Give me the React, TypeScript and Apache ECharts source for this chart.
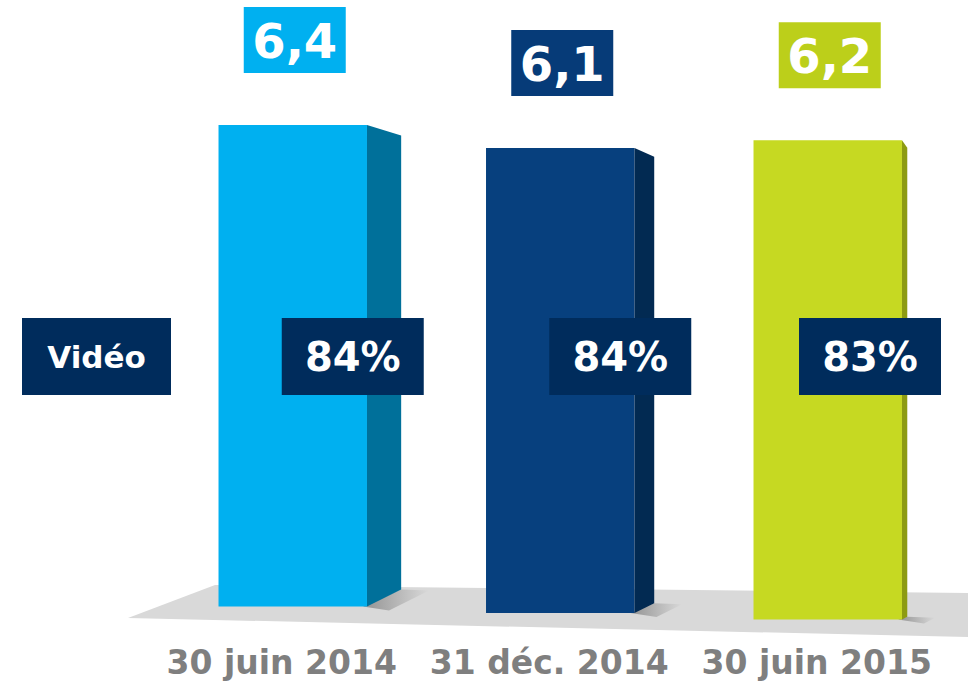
import React, { useEffect, useRef } from "react";
import * as echarts from "echarts";

const categories = ["30 juin 2014", "31 déc. 2014", "30 juin 2015"];
const values = [6.4, 6.1, 6.2];
const valueLabels = ["6,4", "6,1", "6,2"];
const shares = ["84%", "84%", "83%"];
const rowLabel = "Vidéo";

const frontColors = ["#00b0f0", "#07407e", "#c6d922"];
const sideColors = ["#00709a", "#022a52", "#8d9b12"];
const boxColors = ["#00b0f0", "#063b78", "#bccf1a"];
const navy = "#002c5c";
const FONT = "'DejaVu Sans', Verdana, sans-serif";

export default function App() {
  const ref = useRef<HTMLDivElement>(null);
  useEffect(() => {
    if (!ref.current) return;
    const chart = echarts.init(ref.current, null, { renderer: "svg" });
    const renderItem = (params: any, api: any) => {
      const idx = params.dataIndex;
      const v = api.value(1);
      const top = api.coord([idx, v]);
      const base = api.coord([idx, 0]);
      const band = api.size([1, 0])[0];
      const w = band * 0.555;
      const cx = top[0];
      const x0 = cx - w / 2;
      const x1 = cx + w / 2;
      const yTop = top[1];
      const yBot = base[1] + (idx - 1) * 6.5;
      const sideW = Math.max(4, (1000 - x1) * 0.054);
      const drop = 7 + sideW * 0.1;
      const rise = sideW * 0.5;
      const boxCx = cx + 2;
      const pctCx = Math.min(cx + 60, 870);
      return {
        type: "group",
        children: [
          {
            type: "polygon",
            shape: {
              points: [
                [x1 - 4, yBot],
                [x1 + sideW, yBot - rise],
                [x1 + sideW + 28, yBot - rise + 1],
                [x1 + 22, yBot + 4],
              ],
            },
            style: {
              fill: {
                type: "linear",
                x: 0,
                y: 0,
                x2: 1,
                y2: 0,
                colorStops: [
                  { offset: 0, color: "rgba(60,60,60,0.45)" },
                  { offset: 1, color: "rgba(60,60,60,0)" },
                ],
              },
            },
            z2: 1,
          },
          {
            type: "rect",
            shape: { x: x0, y: yTop, width: w, height: yBot - yTop },
            style: { fill: frontColors[idx] },
            z2: 2,
          },
          {
            type: "polygon",
            shape: {
              points: [
                [x1, yTop],
                [x1 + sideW, yTop + drop],
                [x1 + sideW, yBot - rise],
                [x1, yBot],
              ],
            },
            style: { fill: sideColors[idx] },
            z2: 2,
          },
          {
            type: "rect",
            shape: { x: boxCx - 51, y: yTop - 52 - 66, width: 102, height: 66 },
            style: { fill: boxColors[idx] },
            z2: 3,
          },
          {
            type: "text",
            style: {
              text: valueLabels[idx],
              x: boxCx,
              y: yTop - 52 - 33 + 1,
              fill: "#ffffff",
              fontSize: 48,
              fontWeight: "bold",
              fontFamily: FONT,
              align: "center",
              verticalAlign: "middle",
            },
            z2: 4,
          },
          {
            type: "rect",
            shape: { x: pctCx - 71, y: 318, width: 142, height: 77 },
            style: { fill: navy },
            z2: 10,
          },
          {
            type: "text",
            style: {
              text: shares[idx],
              x: pctCx,
              y: 357,
              fill: "#ffffff",
              fontSize: 40,
              fontWeight: "bold",
              fontFamily: FONT,
              align: "center",
              verticalAlign: "middle",
            },
            z2: 11,
          },
        ],
      };
    };
    chart.setOption({
      animation: false,
      grid: { left: 159, right: 12.5, top: 3, bottom: 68, containLabel: false },
      xAxis: {
        type: "category",
        data: categories,
        axisLine: { show: false },
        axisTick: { show: false },
        axisLabel: {
          margin: 33,
          color: "#7f7f7f",
          fontSize: 33,
          fontWeight: "bold",
          fontFamily: FONT,
          padding: [0, 22, 0, 0],
          interval: 0,
        },
      },
      yAxis: { type: "value", min: 0, max: 8, show: false, splitLine: { show: false } },
      graphic: [
        {
          type: "polygon",
          z: 0,
          shape: {
            points: [
              [128, 618],
              [215, 585],
              [968, 593],
              [968, 637],
            ],
          },
          style: { fill: "#d9d9d9" },
        },
        {
          type: "rect",
          z: 10,
          shape: { x: 22, y: 318, width: 149, height: 77 },
          style: { fill: navy },
        },
        {
          type: "text",
          z: 11,
          x: 96.5,
          y: 357,
          style: {
            text: rowLabel,
            fill: "#ffffff",
            fontSize: 31,
            fontWeight: "bold",
            fontFamily: FONT,
            align: "center",
            verticalAlign: "middle",
          },
        },
      ],
      series: [
        {
          type: "custom",
          z: 5,
          renderItem,
          data: values.map((v, i) => [i, v]),
        },
      ],
    });
    return () => chart.dispose();
  }, []);
  return (
    <div
      ref={ref}
      style={{ position: "fixed", left: 0, top: 0, width: 974, height: 681, background: "#ffffff" }}
    />
  );
}
